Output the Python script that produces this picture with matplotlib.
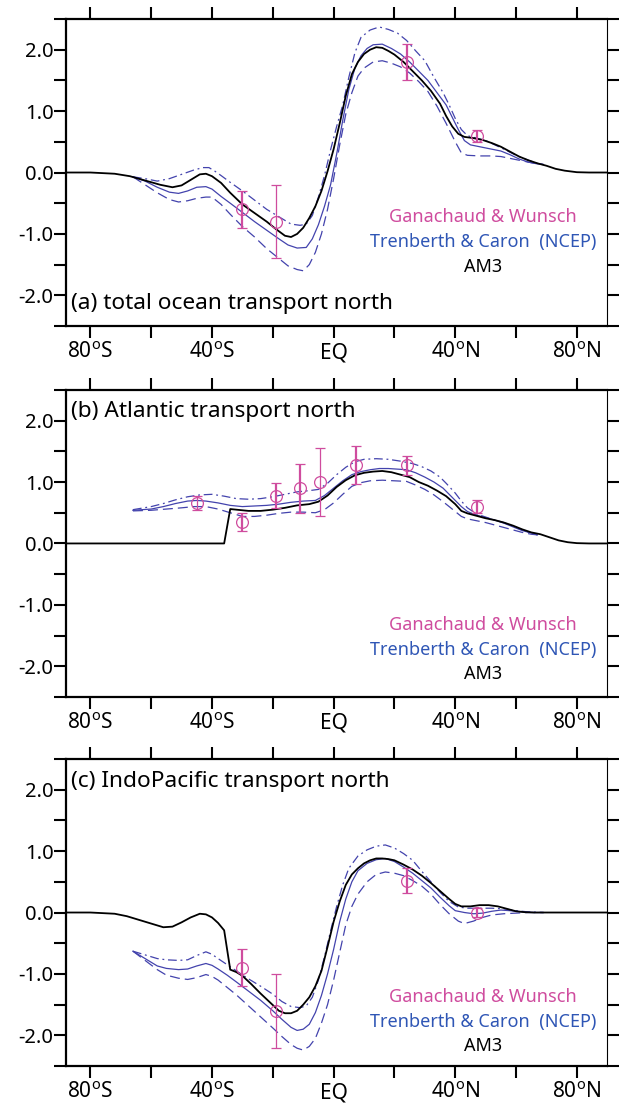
import numpy as np
import matplotlib
matplotlib.use('Agg')
from matplotlib import pyplot as plt

plt.rcParams['font.family'] = ['Noto Sans', 'DejaVu Sans']
plt.rcParams['mathtext.fontset'] = 'custom'
plt.rcParams['mathtext.rm'] = 'Noto Sans'

# ---- (a) total ocean transport (PW) ----
am3_lat_a = [-88, -80, -72, -67, -62, -57, -53, -50, -47, -44, -42, -40, -37, -34, -30, -26, -22, -19,
             -16, -14, -12, -10, -8, -6, -4, -2, 0, 2, 4, 6, 8, 10, 12, 14, 16, 18, 20, 23, 26, 29,
             32, 35, 37, 39, 41, 43, 46, 49, 52, 55, 58, 61, 64, 67, 70, 73, 76, 80, 84, 90]
am3_a = [0, 0, -0.02, -0.06, -0.13, -0.2, -0.24, -0.21, -0.12, -0.03, -0.02, -0.06, -0.17, -0.33,
         -0.52, -0.66, -0.8, -0.92, -1.03, -1.05, -1.0, -0.9, -0.74, -0.55, -0.3, 0.02, 0.38, 0.8,
         1.25, 1.6, 1.8, 1.93, 2.0, 2.04, 2.03, 1.98, 1.92, 1.8, 1.65, 1.5, 1.33, 1.12, 0.92, 0.75,
         0.63, 0.58, 0.56, 0.53, 0.48, 0.42, 0.34, 0.26, 0.2, 0.15, 0.11, 0.06, 0.03, 0.005, 0, 0]

tc_lat_a = [-66, -62, -58, -54, -51, -48, -45, -42, -40, -37, -34, -30, -26, -22, -18, -15, -12, -9,
            -7, -5, -3, -1, 1, 3, 5, 7, 9, 11, 13, 16, 19, 22, 25, 28, 31, 34, 37, 39, 41, 43, 45,
            48, 52, 55, 58, 61, 64, 67, 69]
tc_a = [-0.07, -0.14, -0.24, -0.32, -0.34, -0.3, -0.24, -0.23, -0.27, -0.39, -0.5, -0.65, -0.8,
        -0.94, -1.08, -1.18, -1.23, -1.22, -1.08, -0.85, -0.55, -0.2, 0.3, 0.85, 1.35, 1.7, 1.9,
        2.02, 2.08, 2.09, 2.02, 1.93, 1.8, 1.65, 1.5, 1.3, 1.1, 0.9, 0.7, 0.52, 0.45, 0.42, 0.38,
        0.35, 0.29, 0.22, 0.17, 0.14, 0.13]

tc_hi_lat_a = [-66, -62, -58, -54, -50, -46, -43, -41, -39, -37, -34, -30, -26, -22, -18, -14, -11,
               -9, -7, -5, -3, -1, 1, 3, 5, 7, 9, 12, 15, 18, 21, 24, 27, 30, 33, 36, 38, 40, 42, 44,
               47, 50, 53, 56, 60, 64, 67, 69]
tc_hi_a = [-0.07, -0.1, -0.14, -0.1, -0.03, 0.04, 0.08, 0.08, 0.02, -0.05, -0.16, -0.3, -0.45, -0.6,
           -0.72, -0.84, -0.86, -0.84, -0.7, -0.4, -0.05, 0.37, 0.75, 1.1, 1.55, 1.95, 2.2, 2.32,
           2.37, 2.33, 2.27, 2.15, 1.98, 1.82, 1.55, 1.3, 1.1, 0.88, 0.7, 0.6, 0.56, 0.52, 0.45,
           0.38, 0.28, 0.2, 0.15, 0.13]

tc_lo_lat_a = [-66, -62, -58, -54, -51, -48, -45, -42, -40, -37, -34, -30, -26, -22, -18, -15, -12,
               -10, -8, -6, -4, -2, 0, 2, 4, 6, 8, 10, 13, 16, 19, 22, 25, 28, 31, 34, 37, 40, 42, 44,
               48, 52, 55, 58, 61, 64, 67, 69]
tc_lo_a = [-0.07, -0.2, -0.33, -0.44, -0.48, -0.46, -0.42, -0.4, -0.4, -0.52, -0.68, -0.88, -1.05,
           -1.24, -1.4, -1.52, -1.58, -1.6, -1.5, -1.3, -1.0, -0.6, -0.1, 0.45, 0.95, 1.3, 1.57, 1.7,
           1.8, 1.82, 1.78, 1.72, 1.62, 1.48, 1.32, 1.08, 0.8, 0.5, 0.32, 0.28, 0.27, 0.27, 0.26,
           0.23, 0.2, 0.17, 0.14, 0.13]

gw_lat_a = [-30, -19, 24, 47]
gw_a = [-0.6, -0.8, 1.8, 0.6]
gw_err_a = [0.3, 0.6, 0.3, 0.1]

# ---- (b) Atlantic ----
am3_lat_b = [-88, -36, -34, -32, -28, -24, -20, -16, -12, -8, -5, -2, 1, 4, 7, 10, 13, 16, 19, 22,
             25, 28, 31, 34, 37, 40, 42, 44, 47, 50, 53, 56, 59, 62, 65, 68, 71, 74, 77, 80, 84, 90]
am3_b = [0, 0, 0.56, 0.55, 0.53, 0.53, 0.55, 0.58, 0.62, 0.64, 0.68, 0.78, 0.92, 1.03, 1.11, 1.15,
         1.17, 1.18, 1.16, 1.12, 1.08, 1.0, 0.94, 0.86, 0.77, 0.64, 0.53, 0.49, 0.45, 0.41, 0.38,
         0.34, 0.29, 0.23, 0.18, 0.15, 0.1, 0.05, 0.02, 0.005, 0, 0]

tc_lat_b = [-66, -60, -56, -52, -48, -45, -42, -38, -34, -30, -26, -22, -18, -14, -10, -6, -3, 0, 3,
            6, 9, 12, 15, 18, 21, 24, 27, 30, 33, 36, 38, 40, 42, 44, 47, 50, 53, 56, 59, 62, 65, 67]
tc_b = [0.54, 0.56, 0.6, 0.65, 0.69, 0.7, 0.69, 0.66, 0.62, 0.6, 0.61, 0.62, 0.64, 0.67, 0.69, 0.7,
        0.78, 0.9, 1.02, 1.12, 1.17, 1.2, 1.22, 1.22, 1.21, 1.2, 1.15, 1.08, 1.0, 0.9, 0.8, 0.7,
        0.6, 0.52, 0.46, 0.42, 0.38, 0.33, 0.27, 0.21, 0.17, 0.14]

tc_hi_lat_b = [-66, -60, -56, -52, -48, -44, -40, -36, -32, -28, -24, -20, -16, -12, -8, -5, -2, 1,
               4, 7, 10, 14, 18, 22, 26, 29, 32, 35, 37, 40, 42, 44, 47, 50, 53, 56, 59, 62, 65, 67]
tc_hi_b = [0.55, 0.6, 0.65, 0.71, 0.76, 0.79, 0.8, 0.77, 0.73, 0.72, 0.73, 0.76, 0.8, 0.84, 0.86,
           0.88, 0.98, 1.12, 1.24, 1.33, 1.37, 1.38, 1.37, 1.34, 1.3, 1.25, 1.18, 1.08, 0.98, 0.82,
           0.69, 0.58, 0.48, 0.43, 0.38, 0.34, 0.28, 0.22, 0.17, 0.14]

tc_lo_lat_b = [-66, -60, -55, -50, -46, -42, -38, -34, -30, -26, -22, -18, -14, -10, -6, -3, 0, 3,
               6, 9, 12, 16, 20, 24, 27, 30, 33, 36, 38, 40, 42, 44, 47, 50, 53, 56, 59, 62, 65, 67]
tc_lo_b = [0.53, 0.54, 0.56, 0.58, 0.6, 0.6, 0.56, 0.5, 0.44, 0.44, 0.46, 0.49, 0.51, 0.51, 0.5,
           0.55, 0.66, 0.8, 0.93, 0.99, 1.02, 1.03, 1.02, 1.01, 0.95, 0.88, 0.79, 0.68, 0.6, 0.52,
           0.44, 0.4, 0.37, 0.34, 0.3, 0.26, 0.22, 0.18, 0.15, 0.14]

gw_lat_b = [-45, -30, -19, -11, -4.5, 7.5, 24, 47]
gw_b = [0.66, 0.35, 0.78, 0.9, 1.0, 1.27, 1.27, 0.6]
gw_err_b = [0.11, 0.15, 0.2, 0.4, 0.55, 0.31, 0.15, 0.1]

# ---- (c) IndoPacific ----
am3_lat_c = [-88, -80, -72, -68, -64, -60, -56, -53, -50, -47, -44, -42, -40, -38, -36, -34, -32,
             -30, -27, -24, -21, -18, -16, -14, -12, -10, -8, -6, -4, -2, 0, 2, 4, 6, 8, 10, 12, 14,
             16, 18, 20, 23, 26, 29, 32, 35, 38, 40, 42, 45, 48, 51, 54, 57, 60, 63, 66, 90]
am3_c = [0, 0, -0.02, -0.06, -0.12, -0.18, -0.24, -0.23, -0.16, -0.08, -0.02, -0.03, -0.08, -0.17,
         -0.29, -0.93, -0.97, -1.03, -1.17, -1.32, -1.46, -1.6, -1.64, -1.64, -1.6, -1.5, -1.38,
         -1.2, -0.95, -0.56, -0.15, 0.18, 0.45, 0.62, 0.72, 0.8, 0.85, 0.88, 0.88, 0.87, 0.85,
         0.78, 0.7, 0.6, 0.48, 0.35, 0.22, 0.14, 0.1, 0.1, 0.12, 0.12, 0.1, 0.06, 0.02, 0.005, 0, 0]

tc_lat_c = [-66, -62, -58, -55, -51, -48, -45, -42, -40, -38, -35, -32, -28, -24, -20, -17, -14,
            -12, -10, -8, -6, -4, -2, 0, 2, 4, 6, 8, 11, 14, 17, 20, 23, 26, 29, 32, 35, 38, 40, 43,
            46, 49, 52, 55, 58, 62, 66, 69]
tc_c = [-0.63, -0.75, -0.87, -0.91, -0.93, -0.92, -0.87, -0.83, -0.86, -0.92, -1.02, -1.13, -1.28,
        -1.43, -1.6, -1.74, -1.87, -1.92, -1.9, -1.82, -1.63, -1.35, -1.0, -0.6, -0.15, 0.22, 0.5,
        0.68, 0.8, 0.86, 0.88, 0.83, 0.74, 0.64, 0.52, 0.4, 0.25, 0.11, 0.03, 0.0, -0.02, -0.01,
        0.02, 0.04, 0.03, 0.01, 0, 0]

tc_hi_lat_c = [-66, -62, -58, -55, -51, -48, -45, -42, -40, -38, -35, -32, -28, -24, -20, -17, -14,
               -11, -9, -7, -5, -3, -1, 1, 3, 5, 8, 11, 14, 17, 20, 23, 26, 29, 32, 35, 38, 41, 44,
               48, 52, 56, 60, 64, 69]
tc_hi_c = [-0.63, -0.69, -0.75, -0.77, -0.78, -0.77, -0.7, -0.64, -0.68, -0.75, -0.85, -0.95, -1.08,
           -1.2, -1.33, -1.45, -1.53, -1.55, -1.52, -1.38, -1.1, -0.72, -0.3, 0.1, 0.45, 0.72, 0.92,
           1.02, 1.08, 1.1, 1.05, 0.96, 0.85, 0.67, 0.5, 0.33, 0.18, 0.09, 0.07, 0.07, 0.07, 0.06,
           0.03, 0.01, 0]

tc_lo_lat_c = [-66, -62, -58, -55, -51, -48, -45, -42, -40, -38, -35, -32, -28, -24, -20, -17, -14,
               -12, -10, -8, -6, -4, -2, 0, 2, 4, 6, 8, 11, 14, 17, 20, 23, 26, 29, 32, 35, 38, 41,
               43, 46, 49, 52, 56, 60, 64, 69]
tc_lo_c = [-0.63, -0.78, -0.93, -1.02, -1.07, -1.09, -1.06, -1.01, -1.04, -1.1, -1.22, -1.34, -1.52,
           -1.7, -1.88, -2.02, -2.15, -2.21, -2.24, -2.18, -2.05, -1.8, -1.5, -1.1, -0.65, -0.2, 0.1,
           0.3, 0.5, 0.62, 0.66, 0.64, 0.6, 0.52, 0.43, 0.3, 0.13, -0.02, -0.14, -0.18, -0.14,
           -0.08, -0.04, -0.02, -0.01, 0, 0]

gw_lat_c = [-30, -19, 24, 47]
gw_c = [-0.9, -1.6, 0.52, 0.0]
gw_err_c = [0.3, 0.6, 0.2, 0.07]

titles = ['(a) total ocean transport north', '(b) Atlantic transport north',
          '(c) IndoPacific transport north']
xtick_labels = [r'80$^{\rm o}$S', '', r'40$^{\rm o}$S', '', 'EQ', '', r'40$^{\rm o}$N', '',
                r'80$^{\rm o}$N']

# ========================#
#       PLOTTING          #
# ========================#
colorAM3 = 'black'
colorTC = '#4343ad'
colorTCtext = '#2f56b5'
colorGW = '#cf4c9e'

fig = plt.figure(figsize=(6.2, 11.03), dpi=100)
ax_rects = [[0.1065, 0.7044, 0.873, 0.2784],
            [0.1065, 0.3681, 0.873, 0.2784],
            [0.1065, 0.0335, 0.873, 0.2784]]
title_y = [0.072, 0.929, 0.926]
legend_y = [[0.355, 0.274, 0.192], [0.235, 0.153, 0.075], [0.226, 0.144, 0.066]]
# thick/thin error bars as drawn in the original figure
bar_lw = [[1.6, 0.9, 1.6, 1.6],
          [0.9, 1.6, 1.6, 1.6, 0.9, 1.6, 1.6, 1.6],
          [1.6, 0.9, 1.6, 1.6]]

panels = [
    (am3_lat_a, am3_a, tc_lat_a, tc_a, tc_hi_lat_a, tc_hi_a, tc_lo_lat_a, tc_lo_a, gw_lat_a, gw_a, gw_err_a),
    (am3_lat_b, am3_b, tc_lat_b, tc_b, tc_hi_lat_b, tc_hi_b, tc_lo_lat_b, tc_lo_b, gw_lat_b, gw_b, gw_err_b),
    (am3_lat_c, am3_c, tc_lat_c, tc_c, tc_hi_lat_c, tc_hi_c, tc_lo_lat_c, tc_lo_c, gw_lat_c, gw_c, gw_err_c),
]

for n, p in enumerate(panels):
    (lat_m, am3, lat_t, tc, lat_h, tc_hi, lat_l, tc_lo, lat_g, gw, gw_err) = p
    ax = fig.add_axes(ax_rects[n])

    ax.plot(lat_h, tc_hi, color=colorTC, lw=0.9, linestyle=(0, (7, 3, 1.5, 3)))
    ax.plot(lat_l, tc_lo, color=colorTC, lw=0.9, linestyle=(0, (8, 4)))
    ax.plot(lat_t, tc, color=colorTC, lw=0.9)
    ax.plot(lat_m, am3, color=colorAM3, lw=1.3)

    for i in range(len(lat_g)):
        ax.errorbar(lat_g[i], gw[i], yerr=gw_err[i], fmt='o', mfc='none', mec=colorGW, mew=0.9,
                    ms=8.5, ecolor=colorGW, elinewidth=bar_lw[n][i], capsize=3.5,
                    capthick=bar_lw[n][i], zorder=5)

    ax.set_xlim(-88, 90)
    ax.set_ylim(-2.5, 2.5)
    ax.set_xticks(np.arange(-80, 81, 20))
    ax.set_xticklabels(xtick_labels)
    ax.set_yticks(np.arange(-2.5, 2.51, 0.5))
    ax.set_yticklabels(['', '-2.0', '', '-1.0', '', '0.0', '', '1.0', '', '2.0', ''])
    ax.tick_params(axis='x', direction='out', top=True, bottom=True, length=8.5, width=1.5,
                   labelsize=15, pad=3)
    ax.tick_params(axis='y', direction='out', left=True, right=True, length=8.5, width=1.5,
                   labelsize=14.5, pad=0.5)
    for side in ['left', 'top', 'bottom']:
        ax.spines[side].set_linewidth(1.6)
    ax.spines['right'].set_linewidth(0.8)

    ax.text(0.009, title_y[n], titles[n], transform=ax.transAxes, fontsize=16.3,
            ha='left', va='center')
    ax.text(0.77, legend_y[n][0], 'Ganachaud & Wunsch', transform=ax.transAxes,
            color=colorGW, fontsize=13, ha='center', va='center')
    ax.text(0.77, legend_y[n][1], 'Trenberth & Caron  (NCEP)', transform=ax.transAxes,
            color=colorTCtext, fontsize=13, ha='center', va='center')
    ax.text(0.77, legend_y[n][2], 'AM3', transform=ax.transAxes,
            color=colorAM3, fontsize=13, ha='center', va='center')

plt.savefig('out.png', dpi=100)
